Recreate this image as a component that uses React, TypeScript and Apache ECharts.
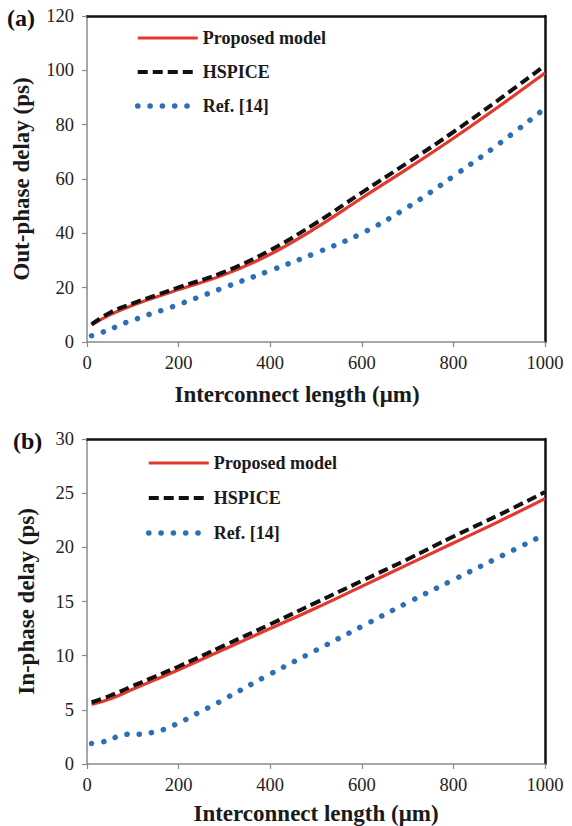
import React, { useEffect, useRef } from "react";
import * as echarts from "echarts";

// ---- data ----
const xLine = [10, 50, 100, 150, 200, 300, 400, 500, 600, 700, 800, 900, 1000];

// (a) out-phase delay (ps)
const outProposed = [6.3, 10, 13.5, 16.5, 19.3, 24.8, 32.3, 42, 53, 63.8, 75, 86.8, 99];
const outHspice = [6.5, 10.8, 14.2, 17.2, 20.1, 25.8, 33.8, 43.8, 55, 66, 77.3, 89.3, 101.8];
const xOutRef = [10, 40, 65, 90, 115, 140, 170, 200, 250, 300, 400, 500, 600, 700, 800, 900, 1000];
const outRef = [2.3, 4.0, 5.7, 7.5, 8.9, 10.4, 12.0, 13.8, 16.9, 20.1, 26.3, 32.8, 40, 49.6, 61, 73, 86];

// (b) in-phase delay (ps)
const inProposed = [5.5, 6.0, 6.9, 7.8, 8.7, 10.6, 12.5, 14.4, 16.4, 18.4, 20.4, 22.4, 24.5];
const inHspice = [5.7, 6.3, 7.2, 8.1, 9.0, 10.95, 12.9, 14.9, 16.9, 18.9, 21.0, 23.0, 25.1];
const xInRef = [10, 40, 65, 90, 120, 150, 175, 200, 225, 250, 275, 300, 400, 500, 600, 700, 800, 900, 1000];
const inRef = [1.9, 2.1, 2.5, 2.75, 2.75, 3.0, 3.3, 3.8, 4.3, 4.9, 5.4, 6.0, 8.3, 10.5, 12.7, 14.9, 17.0, 19.1, 21.2];

const xTicks = { min: 0, max: 1000, interval: 200 };
const outTicks = { min: 0, max: 120, interval: 20 };
const inTicks = { min: 0, max: 30, interval: 5 };

const seriesNames = ["Proposed model", "HSPICE", "Ref. [14]"];
const xTitle = "Interconnect length (μm)";
const yTitleA = "Out-phase delay (ps)";
const yTitleB = "In-phase delay (ps)";

const FONT = "'Liberation Serif', 'Times New Roman', serif";
const RED = "#e5372b";
const BLACK = "#111111";
const BLUE = "#2c6fb7";
const GRAY = "#8a8a8a";

const LINE_STYLES: any[] = [
  { color: RED, width: 3.2 },
  { color: BLACK, width: 4, type: [10, 5] },
  { color: BLUE, width: 5.5, type: [0.1, 12.2], cap: "round" },
];
const LINE_COLORS = [RED, BLACK, BLUE];

const zip = (xs: number[], ys: number[]) => xs.map((x, i) => [x, ys[i]]);

function mainX(gridIndex: number, nameGap: number, shiftLeft: number) {
  return {
    type: "value",
    gridIndex,
    position: "bottom",
    ...xTicks,
    name: xTitle,
    nameLocation: "middle",
    nameGap,
    nameTextStyle: {
      fontFamily: FONT,
      fontWeight: "bold",
      fontSize: 23,
      color: "#1a1a1a",
      padding: [0, shiftLeft * 2, 0, 0],
    },
    axisLine: { show: true, lineStyle: { color: GRAY, width: 1.5 } },
    axisTick: { show: true, inside: false, length: 5, lineStyle: { color: GRAY, width: 1.2 } },
    axisLabel: { fontFamily: FONT, fontSize: 18.5, color: "#222", margin: 11, formatter: (v: number) => String(v) },
    splitLine: { show: false },
  };
}
function frameX(gridIndex: number) {
  return {
    type: "value",
    gridIndex,
    position: "top",
    min: 0,
    max: 1,
    axisLine: { show: true, onZero: false, lineStyle: { color: BLACK, width: 2.5 } },
    axisTick: { show: false },
    axisLabel: { show: false },
    splitLine: { show: false },
  };
}
function mainY(gridIndex: number, ticks: any, name: string, nameGap: number) {
  return {
    type: "value",
    gridIndex,
    position: "left",
    ...ticks,
    name,
    nameLocation: "middle",
    nameGap,
    nameRotate: 90,
    nameTextStyle: { fontFamily: FONT, fontWeight: "bold", fontSize: 23, color: "#1a1a1a" },
    axisLine: { show: true, lineStyle: { color: GRAY, width: 1.5 } },
    axisTick: { show: true, inside: false, length: 5, lineStyle: { color: GRAY, width: 1.2 } },
    axisLabel: { fontFamily: FONT, fontSize: 18.5, color: "#222", margin: 13 },
    splitLine: { show: false },
  };
}
function frameY(gridIndex: number) {
  return {
    type: "value",
    gridIndex,
    position: "right",
    min: 0,
    max: 1,
    axisLine: { show: true, onZero: false, lineStyle: { color: BLACK, width: 2.5 } },
    axisTick: { show: false },
    axisLabel: { show: false },
    splitLine: { show: false },
  };
}

function lineSeries(idx: number, data: number[][], xi: number, yi: number) {
  return {
    type: "line",
    name: seriesNames[idx],
    data,
    xAxisIndex: xi,
    yAxisIndex: yi,
    smooth: 0.4,
    symbol: "none",
    showSymbol: false,
    lineStyle: LINE_STYLES[idx],
    itemStyle: { color: LINE_COLORS[idx] },
    z: [3, 4, 2][idx],
  };
}

function legend(left: number, top: number, itemGap: number) {
  return {
    show: true,
    orient: "vertical",
    left,
    top,
    itemWidth: 60,
    itemHeight: 14,
    itemGap,
    data: seriesNames.map((name, i) => ({ name, lineStyle: { ...LINE_STYLES[i] } })),
    selectedMode: false,
    itemStyle: { opacity: 0 },
    textStyle: { fontFamily: FONT, fontWeight: "bold", fontSize: 18, color: "#1a1a1a" },
  };
}

export default function App() {
  const ref = useRef<HTMLDivElement>(null);
  useEffect(() => {
    document.body.style.margin = "0";
    const chart = echarts.init(ref.current!, undefined, { renderer: "svg" });
    chart.setOption({
      animation: false,
      backgroundColor: "#ffffff",
      title: [
        { text: "(a)", left: 2, top: 1, textStyle: { fontFamily: FONT, fontWeight: "bold", fontSize: 24, color: "#111" } },
        { text: "(b)", left: 8, top: 424, textStyle: { fontFamily: FONT, fontWeight: "bold", fontSize: 24, color: "#111" } },
      ],
      legend: [legend(130, 24, 16), legend(141, 449, 17)],
      grid: [
        { left: 87, top: 16, width: 458, height: 326 },
        { left: 87, top: 439, width: 458, height: 325 },
      ],
      xAxis: [mainX(0, 40.5, 19), frameX(0), mainX(1, 37.5, 0), frameX(1)],
      yAxis: [
        mainY(0, outTicks, yTitleA, 54.5),
        frameY(0),
        mainY(1, inTicks, yTitleB, 49.5),
        frameY(1),
      ],
      series: [
        lineSeries(0, zip(xLine, outProposed), 0, 0),
        lineSeries(1, zip(xLine, outHspice), 0, 0),
        lineSeries(2, zip(xOutRef, outRef), 0, 0),
        lineSeries(0, zip(xLine, inProposed), 2, 2),
        lineSeries(1, zip(xLine, inHspice), 2, 2),
        lineSeries(2, zip(xInRef, inRef), 2, 2),
      ],
    });
    return () => chart.dispose();
  }, []);
  return <div ref={ref} style={{ width: 572, height: 826 }} />;
}
